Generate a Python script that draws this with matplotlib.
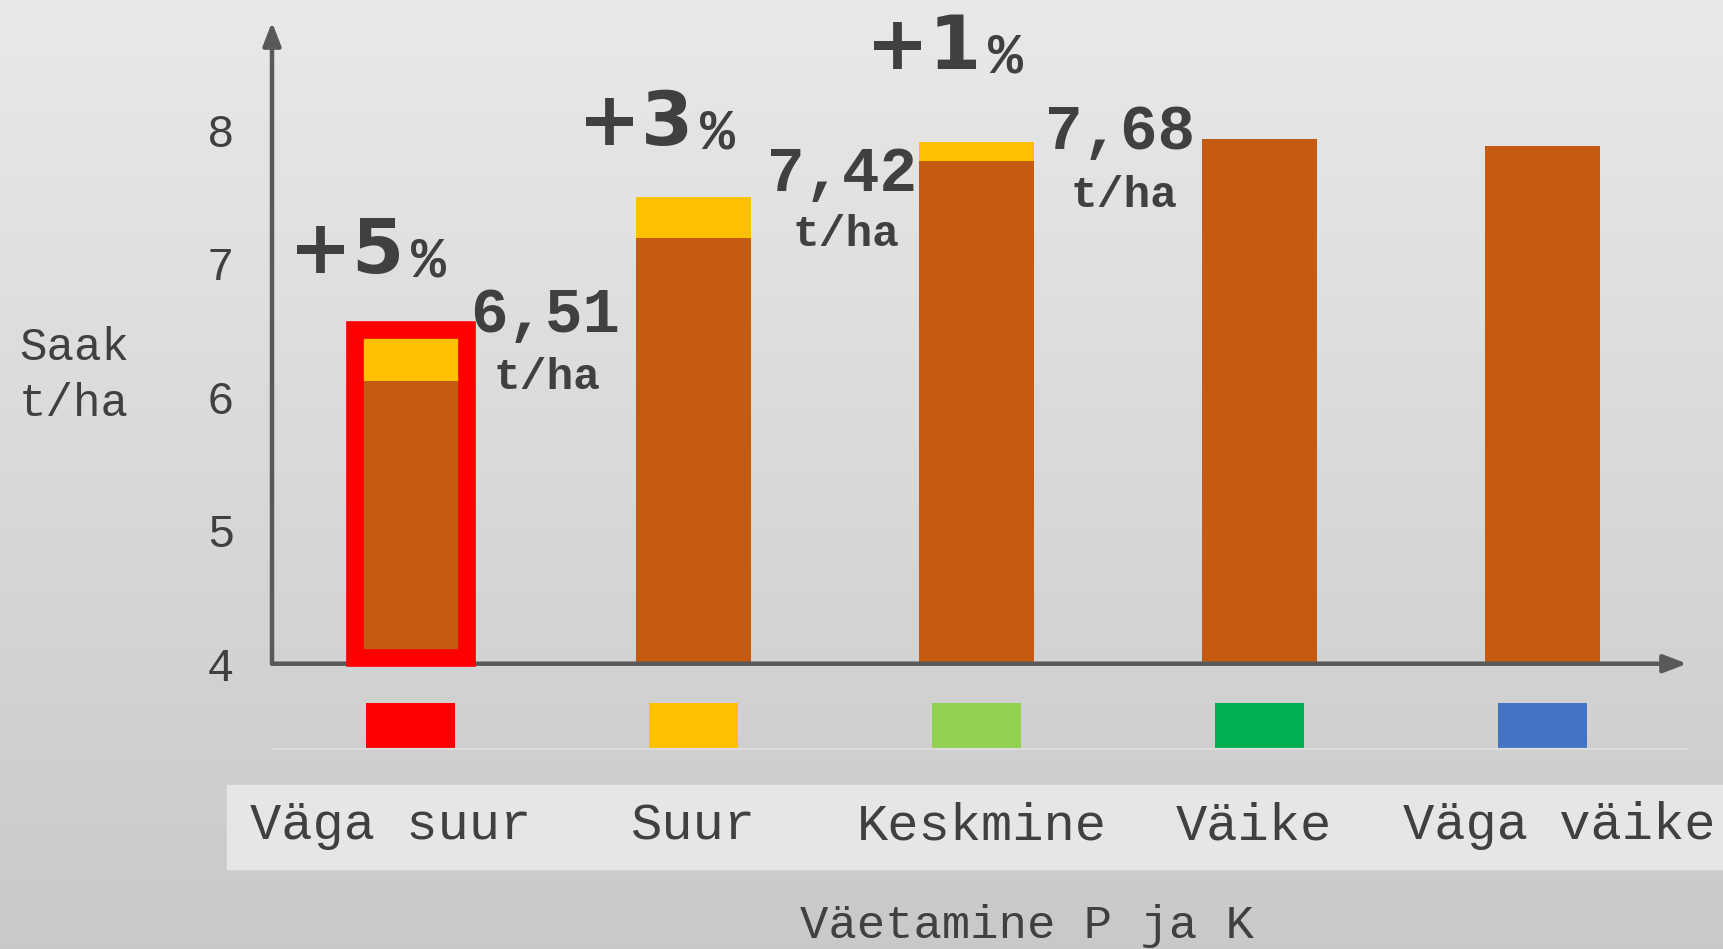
import numpy as np
import matplotlib
matplotlib.use("Agg")
import matplotlib.pyplot as plt
import matplotlib.patches as patches
import matplotlib.transforms as mtransforms

# data
categories = ["Väga suur", "Suur", "Keskmine", "Väike", "Väga väike"]
base_yield = [6.12, 7.19, 7.77, 7.93, 7.88]      # orange part
total_yield = [6.44, 7.50, 7.91]                 # with yellow top (first three)
value_labels = ["6,51", "7,42", "7,68"]
pct_labels = ["+5", "+3", "+1"]
square_colors = ["#FF0000", "#FFC000", "#92D050", "#00B050", "#4472C4"]
yticks = [4, 5, 6, 7, 8]

ORANGE = "#C55A11"
YELLOW = "#FFC000"
TXT = "#404040"
AXC = "#595959"
MONO = "Liberation Mono"

W, H = 1723, 949
fig = plt.figure(figsize=(W / 100, H / 100), dpi=100)

# grey gradient background
bg = fig.add_axes([0, 0, 1, 1], zorder=-10)
grad = np.linspace(0.91, 0.785, 256).reshape(-1, 1)
bg.imshow(grad, cmap="gray", vmin=0, vmax=1, aspect="auto", extent=[0, 1, 0, 1])
bg.set_axis_off()

# light band behind the category labels
fig.patches.append(patches.Rectangle((227 / W, 1 - 869 / H), 1 - 227 / W, 84 / H,
                                     transform=fig.transFigure, color="#E6E6E6",
                                     zorder=-5))

ax = fig.add_axes([272 / W, 1 - 663.7 / H, (1687 - 272) / W, (663.7 - 22) / H])
ax.set_facecolor("none")
ax.set_xlim(-0.49, 4.51)
ax.set_ylim(4, 8.81)
for s in ax.spines.values():
    s.set_visible(False)

x = np.arange(len(categories))
bw = 0.405
ax.bar(x, base_yield, width=bw, color=ORANGE, zorder=2)
n = len(total_yield)
ax.bar(x[:n], np.array(total_yield) - np.array(base_yield[:n]),
       bottom=base_yield[:n], width=bw, color=YELLOW, zorder=2)

# highlight box round the first bar
ax.add_patch(patches.Rectangle((x[0] - 0.198, 4.04), 0.396, 6.50 - 4.04,
                               fill=False, edgecolor="#FF0000", lw=12.7,
                               joinstyle="miter", zorder=6, clip_on=False))

# axes with arrow heads
arr = dict(arrowstyle="-|>,head_length=0.7,head_width=0.27", lw=3.2,
           color=AXC, mutation_scale=20, shrinkA=0, shrinkB=0)
ax.annotate("", xy=(0, 1), xytext=(0, 0), xycoords="axes fraction",
            arrowprops=arr, zorder=5)
ax.annotate("", xy=(1, 0), xytext=(0, 0), xycoords="axes fraction",
            arrowprops=arr, zorder=5)

ax.set_xticks([])
ax.set_yticks(yticks)
ax.set_yticklabels([str(t) for t in yticks], fontfamily=MONO, fontsize=33, color=TXT)
ax.tick_params(axis="y", length=0, pad=27)

# value labels
val_pos = [(0.21, 6.49), (1.26, 7.54), (2.24, 7.86)]
unit_pos = [(0.48, 6.06), (1.54, 7.13), (2.52, 7.42)]
pct_pos = [(-0.43, 6.93), (0.59, 7.89), (1.61, 8.46)]
for i in range(n):
    vx, vy = val_pos[i]
    ax.text(vx, vy, value_labels[i], fontfamily=MONO, fontweight="bold",
            fontsize=45, color=TXT, ha="left", va="baseline", zorder=7)
    ux, uy = unit_pos[i]
    ax.text(ux, uy, "t/ha", fontfamily=MONO, fontweight="bold",
            fontsize=32, color=TXT, ha="center", va="baseline", zorder=7)
    px, py = pct_pos[i]
    t = ax.text(px, py, pct_labels[i], fontfamily="DejaVu Sans", fontweight="bold",
                fontsize=54, color=TXT, ha="left", va="baseline", zorder=7)
    ax.annotate("%", xy=(1, 0), xycoords=t, xytext=(5, 0), textcoords="offset points",
                fontfamily=MONO, fontweight="bold", fontsize=42, color=TXT,
                ha="left", va="bottom", zorder=7)

# colour squares under the axis
lax = fig.add_axes([272 / W, 1 - 760 / H, (1687 - 272) / W, 70 / H])
lax.set_xlim(ax.get_xlim())
lax.set_ylim(0, 70)
lax.set_axis_off()
lax.bar(x, 45, bottom=12, width=0.316, color=square_colors)
lax.plot([-0.51, 4.52], [11, 11], color="#DCDCDC", lw=1.6)

# category labels
label_dx = [-0.07, 0.0, 0.02, -0.02, 0.06]
tr = mtransforms.blended_transform_factory(ax.transData, fig.transFigure)
for i, c in enumerate(categories):
    fig.text(x[i] + label_dx[i], 1 - 826 / H, c, transform=tr, ha="center",
             va="center", fontfamily=MONO, fontsize=37.5, color=TXT)

fig.text(1027 / W, 1 - 926 / H, "Väetamine P ja K", ha="center", va="center",
         fontfamily=MONO, fontsize=34, color=TXT)
fig.text(19 / W, 1 - 376 / H, "Saak\nt/ha", ha="left", va="center",
         fontfamily=MONO, fontsize=33, color=TXT, linespacing=1.35)

fig.savefig("out.png", dpi=100)
